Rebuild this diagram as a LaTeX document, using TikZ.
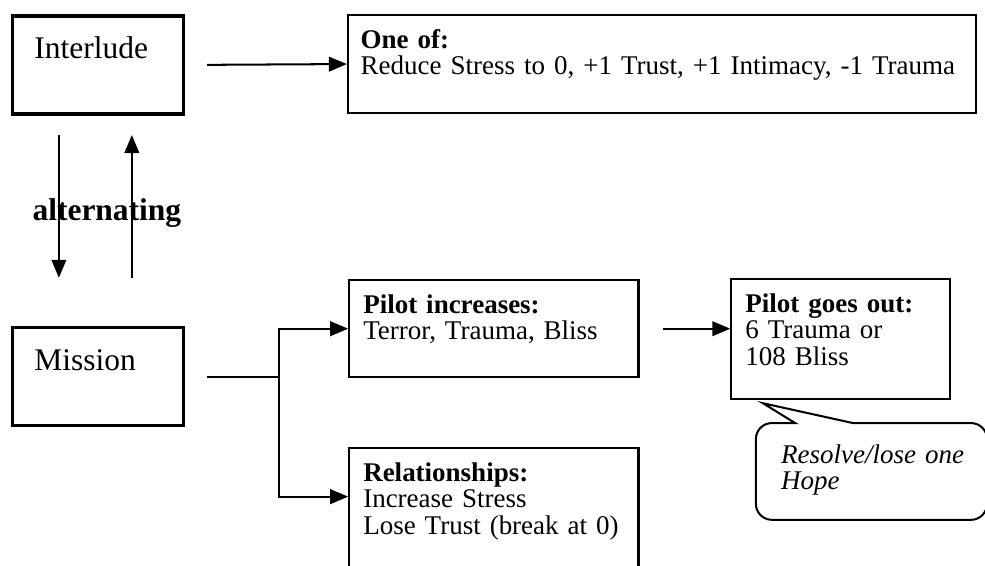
\documentclass[tikz,border=0pt]{standalone}
\usepackage{fontspec}
\setmainfont{Liberation Serif}
\usetikzlibrary{arrows.meta,calc}
\newcommand{\bodyfont}{\fontsize{12pt}{11.8pt}\selectfont}
\newcommand{\bigfont}{\fontsize{14pt}{16pt}\selectfont}
\tikzset{
  panel/.style={draw, line width=0.9pt, anchor=north west, align=left, font=\bodyfont,
                inner xsep=0.22cm, inner ysep=0pt, text height=0.52cm},
  stage/.style={panel, line width=1.6pt, font=\bigfont, inner xsep=0.34cm,
                text width=1.99cm, text height=0.67cm, text depth=0.86cm},
  arr/.style={-{Triangle[length=8pt,width=6.5pt]}, line width=0.9pt},
  wire/.style={line width=0.9pt},
  bubble/.style={line width=0.9pt}
}

\begin{document}
\begin{tikzpicture}
\useasboundingbox (0,0) rectangle (15.39,-8.83);
% the two phases
\node[stage] (inter) at (0.17,-0.22) {Interlude};
\node[stage] (mission) at (0.17,-5.09) {Mission};
\coordinate (dtop) at (0.92,-2.11); \coordinate (dbot) at (0.92,-4.34);
\coordinate (utop) at (2.06,-2.11); \coordinate (ubot) at (2.06,-4.34);
\node[font=\bigfont\bfseries, anchor=base] (alt) at (1.67,-3.44) {alternating};
\draw[arr] (dtop) -- (dbot);
\draw[arr] (ubot) -- (utop);
% interlude
\node[panel, inner xsep=0.2cm, text width=9.41cm, text depth=1.01cm] (oneof) at (5.42,-0.22)
  {\textbf{One of:}\\Reduce Stress to 0, +1 Trust, +1 Intimacy, -1 Trauma};
\draw[arr] ([xshift=0.34cm]inter.east) -- (oneof.west);
% mission
\node[panel, text width=4.08cm, text depth=1.0cm] (pinc) at (5.44,-4.36)
  {\textbf{Pilot increases:}\\Terror, Trauma, Bliss};
\node[panel, text width=4.08cm, text depth=1.48cm] (rel) at (5.44,-6.98)
  {\textbf{Relationships:}\\Increase Stress\\Lose Trust (break at 0)};
\node[panel, text width=2.97cm, text depth=1.36cm] (pout) at (11.41,-4.34)
  {\textbf{Pilot goes out:}\\6 Trauma or\\108 Bliss};
\coordinate (fork) at ($(mission.east)+(1.47,0)$);
\draw[wire] ([xshift=0.34cm]mission.east) -- (fork);
\draw[arr] (fork) |- (pinc.west);
\draw[arr] (fork) |- ([yshift=-0.78cm]rel.north west);
\draw[arr] ([xshift=0.36cm]pinc.east) -- (pinc.east -| pout.west);
% note
\node[panel, draw=none, font=\bodyfont\itshape, inner xsep=0.38cm, text width=2.82cm,
      text height=0.61cm, text depth=0.87cm] (hope) at (11.81,-6.61)
  {\mbox{Resolve/lose one}\\Hope};
\coordinate (tip) at (11.92,-6.30);
\draw[bubble] ($(hope.north west)!0.17!(hope.north east)$) -- (tip) -- ($(hope.north west)!0.42!(hope.north east)$)
  [rounded corners=0.25cm] -- (hope.north east) -- (hope.south east) -- (hope.south west) -- (hope.north west)
  [sharp corners] -- cycle;
\end{tikzpicture}
\end{document}
